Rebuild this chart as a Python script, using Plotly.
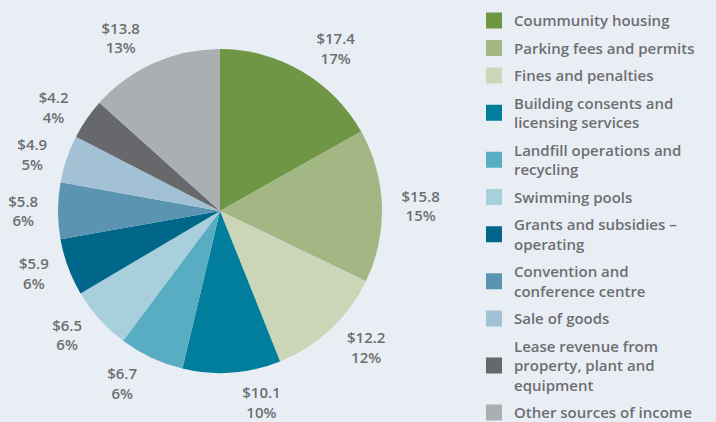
import plotly.graph_objects as go

categories = [
    "Coummunity housing",
    "Parking fees and permits",
    "Fines and penalties",
    "Building consents and<br>licensing services",
    "Landfill operations and<br>recycling",
    "Swimming pools",
    "Grants and subsidies –<br>operating",
    "Convention and<br>conference centre",
    "Sale of goods",
    "Lease revenue from<br>property, plant and<br>equipment",
    "Other sources of income",
]
values = [17.4, 15.8, 12.2, 10.1, 6.7, 6.5, 5.9, 5.8, 4.9, 4.2, 13.8]
colors = [
    "#6e9645", "#a2b784", "#cdd5b9", "#017e9b", "#58adc2", "#a8cfdc",
    "#00678a", "#5a94b0", "#a3c1d4", "#67686c", "#abafb2",
]

bg = "#e9eef5"
grey = "#6d6e71"
font_main = "Open Sans"

fig = go.Figure()

# transparent, slightly larger pie that only carries the outside labels
fig.add_trace(go.Pie(
    labels=categories,
    values=values,
    sort=False,
    direction="clockwise",
    rotation=0,
    marker=dict(colors=["rgba(0,0,0,0)"] * len(values), line=dict(width=0)),
    textposition="outside",
    texttemplate="$%{value:.1f}<br>%{percent:.0%}",
    textfont=dict(family=font_main, size=15, color=grey, weight=600),
    hoverinfo="skip",
    showlegend=False,
    domain=dict(x=[0.067, 0.547], y=[0.0924, 0.9076]),
))

# the visible pie
fig.add_trace(go.Pie(
    labels=categories,
    values=values,
    sort=False,
    direction="clockwise",
    rotation=0,
    marker=dict(colors=colors, line=dict(width=0)),
    textinfo="none",
    hoverinfo="label+value+percent",
    showlegend=False,
    domain=dict(x=[0.081, 0.5335], y=[0.116, 0.884]),
))

# legend entries with bigger square swatches
for name, color in zip(categories, colors):
    fig.add_trace(go.Scatter(
        x=[None], y=[None],
        mode="markers",
        name=name,
        legendgroup=name,
        marker=dict(symbol="square", size=16, color=color),
        hoverinfo="skip",
    ))

fig.update_layout(
    width=716,
    height=422,
    margin=dict(l=0, r=0, t=0, b=0, autoexpand=False),
    paper_bgcolor=bg,
    plot_bgcolor=bg,
    font=dict(family=font_main, color=grey),
    xaxis=dict(visible=False),
    yaxis=dict(visible=False),
    legend=dict(
        x=0.662, y=0.99,
        xanchor="left", yanchor="top",
        font=dict(family=font_main, size=15, color=grey, weight=600),
        bgcolor="rgba(0,0,0,0)",
        tracegroupgap=5,
        maxheight=1000,
        itemclick=False,
    ),
)

fig.write_html(
    "out.html",
    config={"displayModeBar": False},
    post_script="document.body.style.margin='0px';"
                "document.body.style.background='" + bg + "';",
)
